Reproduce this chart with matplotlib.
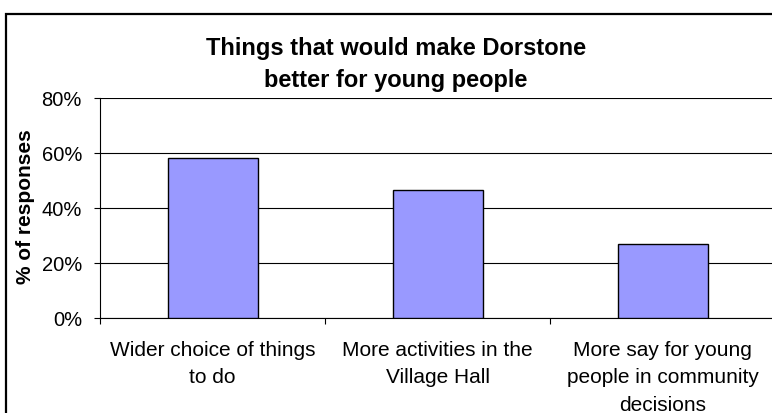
import matplotlib
matplotlib.use('Agg')
import matplotlib.pyplot as plt
from matplotlib.patches import Rectangle
from matplotlib.ticker import PercentFormatter

# values
categories = ['Wider choice of things\nto do',
              'More activities in the\nVillage Hall',
              'More say for young\npeople in community\ndecisions']
responses = [58.2, 46.6, 26.9]   # % of responses
yticks = [0, 20, 40, 60, 80]

plt.rcParams['font.family'] = ['Liberation Sans', 'DejaVu Sans']

W, H = 772, 414
fig = plt.figure(figsize=(W / 100, H / 100), dpi=100)

# chart area border (runs off the right and bottom edges like the original)
fig.patches.append(Rectangle((6 / W, -0.1), 1.0, 1 - 15 / H + 0.1,
                             transform=fig.transFigure, fill=False,
                             edgecolor='black', linewidth=1.6))

ax = fig.add_axes([100 / W, 95 / H, 675 / W, 220 / H])
ax.bar(range(len(responses)), responses, width=0.4, color='#9999FF',
       edgecolor='black', linewidth=1.0, zorder=3)

ax.set_xlim(-0.5, len(responses) - 0.5)
ax.set_ylim(0, 80)
ax.set_yticks(yticks)
ax.yaxis.set_major_formatter(PercentFormatter(decimals=0))
ax.yaxis.grid(True, color='black', linewidth=0.8, zorder=0)

ax.set_xticks(range(len(categories)))
ax.set_xticklabels(categories, fontsize=15, linespacing=1.55)
ax.set_xticks([i - 0.5 for i in range(len(categories) + 1)], minor=True)
ax.tick_params(axis='x', which='major', length=0, pad=16)
ax.tick_params(axis='x', which='minor', length=4, width=0.8, direction='out')
ax.tick_params(axis='y', length=4, width=0.8, labelsize=14.5, pad=9)

for side in ['top', 'right']:
    ax.spines[side].set_visible(False)
ax.spines['left'].set_linewidth(0.8)
ax.spines['bottom'].set_linewidth(0.8)

fig.text(396 / W, 1 - 64 / H,
         'Things that would make Dorstone\nbetter for young people',
         ha='center', va='center', fontsize=17, fontweight='bold',
         linespacing=1.5)
fig.text(26 / W, 1 - 207 / H, '% of responses', rotation=90,
         ha='center', va='center', fontsize=15, fontweight='bold')

fig.savefig('out.png', dpi=100)
